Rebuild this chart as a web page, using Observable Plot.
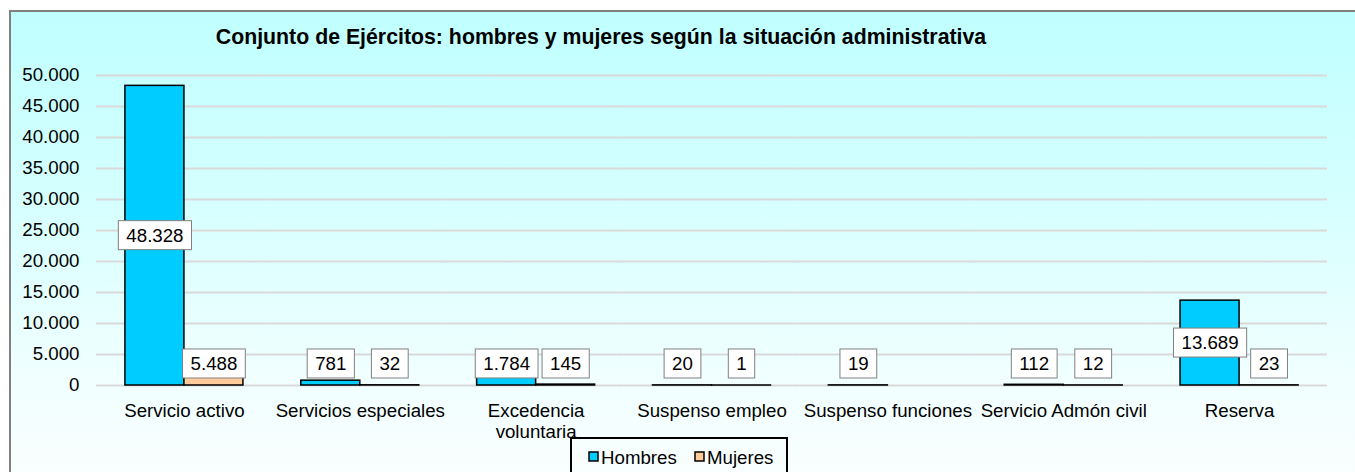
<!DOCTYPE html>
<html>
<head>
<meta charset="utf-8">
<script src="https://cdn.jsdelivr.net/npm/d3@7"></script>
<script src="https://cdn.jsdelivr.net/npm/@observablehq/plot@0.6"></script>
<style>
  html, body { margin: 0; padding: 0; background: #fff; }
  #wrap { position: relative; width: 1355px; height: 472px; overflow: hidden; font-family: "Liberation Sans", Arial, sans-serif; }
  #frame { position: absolute; left: 9px; top: 10px; width: 1400px; height: 480px; border: 2px solid #808080;
           background: linear-gradient(to bottom, #C0FFFF 0%, #D6FFFF 40%, #F0FFFF 75%, #FBFEFE 100%); }
  #chart { position: absolute; left: 0; top: 0; }
  #title { position: absolute; left: 0; width: 1202px; top: 27px; text-align: center; font-weight: bold; font-size: 21.3px; line-height: 21px; color: #000; white-space: nowrap; }
  #legend { position: absolute; left: 570px; top: 437px; }
</style>
</head>
<body>
<div id="wrap">
  <div id="frame"></div>
  <div id="chart"></div>
  <div id="title">Conjunto de Ejércitos: hombres y mujeres según la situación administrativa</div>
  <div id="legend"></div>
</div>
<script>
const categories = ["Servicio activo", "Servicios especiales", "Excedencia\nvoluntaria", "Suspenso empleo", "Suspenso funciones", "Servicio Admón civil", "Reserva"];
const series = ["Hombres", "Mujeres"];
const hombres = [48328, 781, 1784, 20, 19, 112, 13689];
const mujeres = [5488, 32, 145, 1, null, 12, 23];
const colors = ["#00CCFF", "#FFCC99"];
const yTicks = [0, 5000, 10000, 15000, 20000, 25000, 30000, 35000, 40000, 45000, 50000];

const locale = d3.formatLocale({decimal: ",", thousands: ".", grouping: [3], currency: ["", "€"]});
const fmt = locale.format(",d");

const rows = categories.flatMap((c, i) => [
  {cat: c, sexo: series[0], v: hombres[i]},
  {cat: c, sexo: series[1], v: mujeres[i]}
]).filter(d => d.v != null);

const labelFloor = 3470; // labels kept above the axis, as in the original
const FS = 18.7;

const chart = Plot.plot({
  width: 1355,
  height: 472,
  marginTop: 75,
  marginBottom: 87,
  marginLeft: 96,
  marginRight: 28,
  style: {background: "transparent", fontFamily: "'Liberation Sans', Arial, sans-serif", fontSize: FS + "px", color: "#000", overflow: "visible"},
  fx: {domain: categories, paddingInner: 0, paddingOuter: 0, round: false, label: null, axis: null},
  x: {domain: series, paddingInner: 0, paddingOuter: 0.49, round: false, axis: null},
  y: {domain: [0, 50000], label: null},
  color: {domain: series, range: colors},
  marks: [
    Plot.gridY(yTicks, {stroke: "#d9d9d9", strokeOpacity: 1, strokeWidth: 2}),
    Plot.axisY(yTicks, {tickSize: 0, tickPadding: 17, tickFormat: fmt, fontSize: FS, label: null}),
    Plot.axisFx({anchor: "bottom", tickSize: 0, tickPadding: 16, fontSize: FS, label: null, lineHeight: 1.13}),
    Plot.barY(rows, {fx: "cat", x: "sexo", y: "v", fill: "sexo", stroke: "#000", strokeWidth: 1.5}),
    Plot.text(rows, {
      fx: "cat", x: "sexo", y: d => Math.max(d.v / 2, labelFloor), text: d => fmt(d.v),
      fontSize: FS, fill: "#000",
      render(index, scales, values, dimensions, context, next) {
        const g = next(index, scales, values, dimensions, context);
        g.classList.add("datalabels");
        return g;
      }
    })
  ]
});
document.getElementById("chart").appendChild(chart);

// white boxes behind data labels
const svgns = "http://www.w3.org/2000/svg";
chart.querySelectorAll(".datalabels text").forEach(t => {
  const b = t.getBBox();
  const r = document.createElementNS(svgns, "rect");
  const cy = b.y + b.height / 2;
  r.setAttribute("x", b.x - 8);
  r.setAttribute("y", cy - 14.5);
  r.setAttribute("width", b.width + 16);
  r.setAttribute("height", 29);
  r.setAttribute("fill", "#fff");
  r.setAttribute("stroke", "#808080");
  r.setAttribute("stroke-width", 1);
  if (t.getAttribute("transform")) r.setAttribute("transform", t.getAttribute("transform"));
  t.parentNode.insertBefore(r, t);
});

// legend
const lg = d3.select("#legend").append("svg").attr("width", 220).attr("height", 40);
lg.append("rect").attr("x", 1).attr("y", 1).attr("width", 216).attr("height", 50)
  .attr("fill", "none").attr("stroke", "#000").attr("stroke-width", 2);
const offsets = [19, 125];
series.forEach((s, i) => {
  const g = lg.append("g").attr("transform", `translate(${offsets[i]},0)`);
  g.append("rect").attr("x", 0).attr("y", 15).attr("width", 9).attr("height", 9)
    .attr("fill", colors[i]).attr("stroke", "#000").attr("stroke-width", 1.5);
  g.append("text").attr("x", 12).attr("y", 27).attr("font-size", FS)
    .attr("font-family", "'Liberation Sans', Arial, sans-serif").text(s);
});
</script>
</body>
</html>
